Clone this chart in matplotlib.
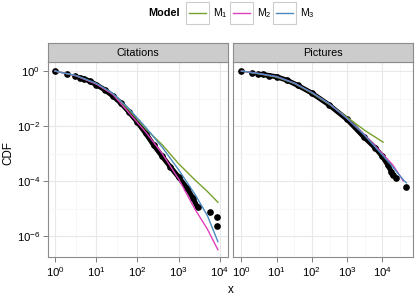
import numpy as np
import matplotlib
matplotlib.use("Agg")
import matplotlib.pyplot as plt
from matplotlib.patches import Rectangle
from matplotlib.ticker import FixedLocator, NullFormatter

plt.rcParams['font.family'] = ['Liberation Sans', 'DejaVu Sans']
plt.rcParams['mathtext.fontset'] = 'custom'
plt.rcParams['mathtext.rm'] = 'Liberation Sans'
plt.rcParams['mathtext.it'] = 'Liberation Sans:italic'
plt.rcParams['mathtext.bf'] = 'Liberation Sans:bold'

# legend / models
model_names = ['M$_1$', 'M$_2$', 'M$_3$']
model_colors = ['#77a12c', '#de3fbd', '#4b8abf']

cit_x = [1, 2, 3, 4, 5, 7, 10, 16, 25, 40, 63, 100, 160, 250, 400, 630,
         1000, 1600, 2200, 2900]
cit_y = [1.0, 0.76, 0.65, 0.575, 0.525, 0.43, 0.32, 0.21, 0.126, 0.068,
         0.032, 0.0138, 5.4e-3, 2.0e-3, 7.9e-4, 3.3e-4, 1.4e-4, 5.6e-5,
         2.5e-5, 1.1e-5]
cit_tail_x = [5800, 8500, 8500]
cit_tail_y = [7.8e-6, 4.8e-6, 2.4e-6]

# Citations: fitted models
cit_fit_x = [1, 3.2, 10, 25, 63, 160, 400, 1000, 2500, 5000, 9000]
cit_m1 = [1, 0.68, 0.35, 0.148, 0.038, 7.9e-3, 2.1e-3, 4.3e-4, 1.1e-4, 4.2e-5, 1.7e-5]
cit_m2 = [1, 0.68, 0.34, 0.145, 0.030, 6.0e-3, 1.0e-3, 1.2e-4, 9.5e-6, 1.8e-6, 3.2e-7]
cit_m3 = [1, 0.69, 0.36, 0.158, 0.042, 8.9e-3, 1.7e-3, 2.6e-4, 3.3e-5, 5.6e-6, 6.3e-7]

# --- Pictures: empirical CCDF
pic_x = [1, 2, 3, 4, 6, 10, 20, 40, 100, 300, 1000, 3000, 6300, 10000,
         14000, 18000, 20000]
pic_y = [1.0, 0.87, 0.79, 0.76, 0.69, 0.62, 0.46, 0.30, 0.158, 0.060,
         0.0174, 4.0e-3, 1.6e-3, 7.9e-4, 4.0e-4, 2.2e-4, 1.6e-4]
pic_tail_x = [25000, 47000]
pic_tail_y = [1.26e-4, 6.3e-5]

# Pictures: fitted models
pic_m1_x = [1, 3.2, 10, 32, 100, 320, 1000, 3200, 10500]
pic_m1 = [1, 0.79, 0.60, 0.355, 0.158, 0.060, 0.021, 6.9e-3, 2.6e-3]
pic_m2_x = [1, 3.2, 10, 32, 100, 320, 1000, 3200, 10000, 20000, 39000]
pic_m2 = [1, 0.81, 0.63, 0.363, 0.166, 0.063, 0.019, 4.7e-3, 1.0e-3, 3.8e-4, 1.02e-4]
pic_m3_x = [1, 3.2, 10, 32, 100, 320, 1000, 3200, 10000, 20000, 39000, 48000]
pic_m3 = [1, 0.81, 0.63, 0.363, 0.166, 0.063, 0.019, 4.5e-3, 8.9e-4, 3.2e-4, 1.12e-4, 8.7e-5]

W, H = 415, 296
fig = plt.figure(figsize=(W / 100, H / 100), dpi=100)

def px_axes(x0, y0, x1, y1):
    return fig.add_axes([x0 / W, 1 - y1 / H, (x1 - x0) / W, (y1 - y0) / H])

ax1 = px_axes(48, 62, 228, 257)
ax2 = px_axes(233, 62, 413, 257)

panels = [
    (ax1, 'Citations', cit_x, cit_y, cit_tail_x, cit_tail_y,
     [(cit_fit_x, cit_m1), (cit_fit_x, cit_m2), (cit_fit_x, cit_m3)],
     (10 ** -0.17, 10 ** 4.2)),
    (ax2, 'Pictures', pic_x, pic_y, pic_tail_x, pic_tail_y,
     [(pic_m1_x, pic_m1), (pic_m2_x, pic_m2), (pic_m3_x, pic_m3)],
     (10 ** -0.24, 10 ** 4.87)),
]

xmajor = [1, 10, 100, 1000, 10000]
ymajor = [1, 1e-2, 1e-4, 1e-6]
yminor = [1e-1, 1e-3, 1e-5]

for i, (ax, title, dx, dy, tx, ty, fits, xlim) in enumerate(panels):
    ax.set_xscale('log')
    ax.set_yscale('log')
    ax.set_xlim(*xlim)
    ax.set_ylim(10 ** -6.76, 10 ** 0.33)
    ax.set_facecolor('white')

    # data: thick band of points
    ax.plot(dx[3:], dy[3:], color='black', lw=3.6, solid_capstyle='round', zorder=3)
    ax.plot(dx, dy, 'o', color='black', ms=3.8, zorder=3)
    ax.plot(tx, ty, 'o', color='black', ms=3.8, zorder=3)

    for (fx, fy), c in zip(fits, model_colors):
        ax.plot(fx, fy, color=c, lw=1.0, zorder=4)

    ax.xaxis.set_major_locator(FixedLocator(xmajor))
    xminor = [10 ** (k + 0.5) for k in range(5)]
    ax.xaxis.set_minor_locator(FixedLocator(xminor))
    ax.yaxis.set_major_locator(FixedLocator(ymajor))
    ax.yaxis.set_minor_locator(FixedLocator(yminor))
    ax.xaxis.set_minor_formatter(NullFormatter())
    ax.yaxis.set_minor_formatter(NullFormatter())
    ax.set_xticklabels(['$10^{%d}$' % k for k in range(5)])
    if i == 0:
        ax.set_yticklabels(['$10^{0}$', '$10^{-2}$', '$10^{-4}$', '$10^{-6}$'])
    else:
        ax.set_yticklabels([])

    ax.grid(True, which='major', color='#e8e8e8', lw=0.8, zorder=0)
    ax.grid(True, which='minor', color='#f6f6f6', lw=0.6, zorder=0)
    ax.set_axisbelow(True)
    ax.tick_params(which='major', length=3.6, width=0.7, color='#7f7f7f',
                   labelsize=8.2, pad=2, labelcolor='black')
    ax.tick_params(which='minor', length=0)
    if i == 1:
        ax.tick_params(axis='y', which='major', length=0)
    for s in ax.spines.values():
        s.set_color('#8c8c8c')
        s.set_linewidth(0.8)

    # facet strip
    bb = ax.get_position()
    sax = fig.add_axes([bb.x0, 1 - 62 / H, bb.width, 19 / H])
    sax.set_facecolor('#cccccc')
    sax.set_xticks([])
    sax.set_yticks([])
    for s in sax.spines.values():
        s.set_color('#8c8c8c')
        s.set_linewidth(0.8)
    sax.text(0.5, 0.5, title, ha='center', va='center', fontsize=7.8,
             transform=sax.transAxes)

fig.text(8 / W, 1 - 153 / H, 'CDF', rotation=90, ha='center', va='center', fontsize=8.4)
fig.text(230.5 / W, 1 - 290 / H, 'x', ha='center', va='center', fontsize=8.4)

# legend row on top
lax = fig.add_axes([0, 0, 1, 1], facecolor='none')
lax.set_xlim(0, W)
lax.set_ylim(H, 0)
lax.axis('off')
lax.text(180, 13.5, 'Model', ha='right', va='center', fontsize=7.8, fontweight='bold')
box_left = [186, 230, 273]
for bx, name, c in zip(box_left, model_names, model_colors):
    lax.add_patch(Rectangle((bx, 1.5), 23, 22.5, facecolor='white',
                            edgecolor='#cccccc', lw=0.8))
    lax.plot([bx + 3, bx + 20], [12.8, 12.8], color=c, lw=1.0)
    lax.text(bx + 27, 13.5, name, ha='left', va='center', fontsize=7.6)

fig.savefig('out.png', dpi=100)
